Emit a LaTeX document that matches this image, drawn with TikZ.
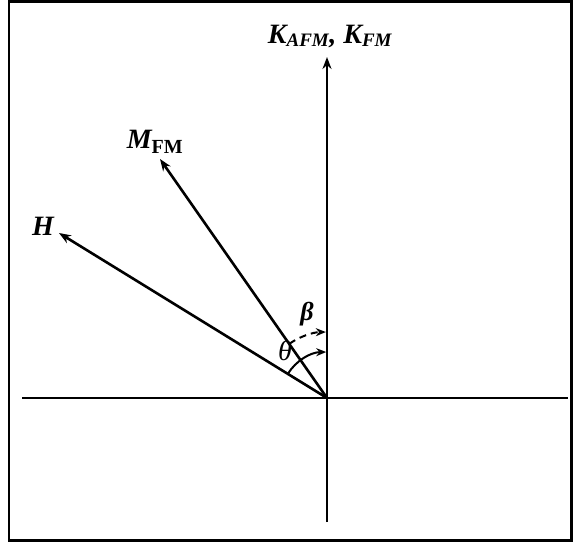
\documentclass[tikz,border=0pt]{standalone}
\usepackage{fontspec}
\setmainfont{Liberation Serif}
\usetikzlibrary{arrows.meta}
\begin{document}
\begin{tikzpicture}[x=1pt,y=-1pt,
  axis/.style={line width=2.6pt},
  vec/.style={line width=2.6pt,-{Stealth[length=12pt,width=9pt]}},
  lbl/.style={font=\fontsize{28}{30}\selectfont\bfseries\itshape,inner sep=0pt},
  anglearc/.style={line width=2pt,-{Stealth[length=10pt,width=8pt]}}]
\useasboundingbox (0,0) rectangle (574,544);
\draw[line width=2.8pt] (9,1.5) rectangle (571.5,540.5);
\coordinate (O) at (327,398);
\coordinate (xl) at (22,398);
\coordinate (xr) at (568,398);
\coordinate (yb) at (327,522);
\coordinate (yt) at (327,57);
\coordinate (Ht) at (59,233);
\coordinate (Mt) at (160,159);
\draw[axis] (xl) -- (xr);
\draw[axis] (yb) -- (O);
\draw[vec] (O) -- (yt);
\draw[vec] (O) -- (Ht);
\draw[vec] (O) -- (Mt);
\node[lbl] (K) at (330,36) {K\textsubscript{\fontsize{19}{20}\selectfont AFM}, K\textsubscript{\fontsize{19}{20}\selectfont FM}};
\node[lbl] (H) at (43,226) {H};
\node[lbl] (M) at (155,142) {M\textsubscript{\fontsize{20}{21}\selectfont\upshape FM}};
\draw[anglearc] ([shift={(-148.4:46)}]O) arc[start angle=-148.4, end angle=-91, radius=46];
\draw[anglearc,dash pattern=on 7pt off 5pt] ([shift={(-124.9:66)}]O) arc[start angle=-124.9, end angle=-91, radius=66];
\node[font=\fontsize{28}{30}\selectfont\itshape,inner sep=0pt] (th) at (285,351) {θ};
\node[font=\fontsize{26}{28}\selectfont\bfseries\itshape,inner sep=0pt] (be) at (307,314) {β};
\end{tikzpicture}
\end{document}
